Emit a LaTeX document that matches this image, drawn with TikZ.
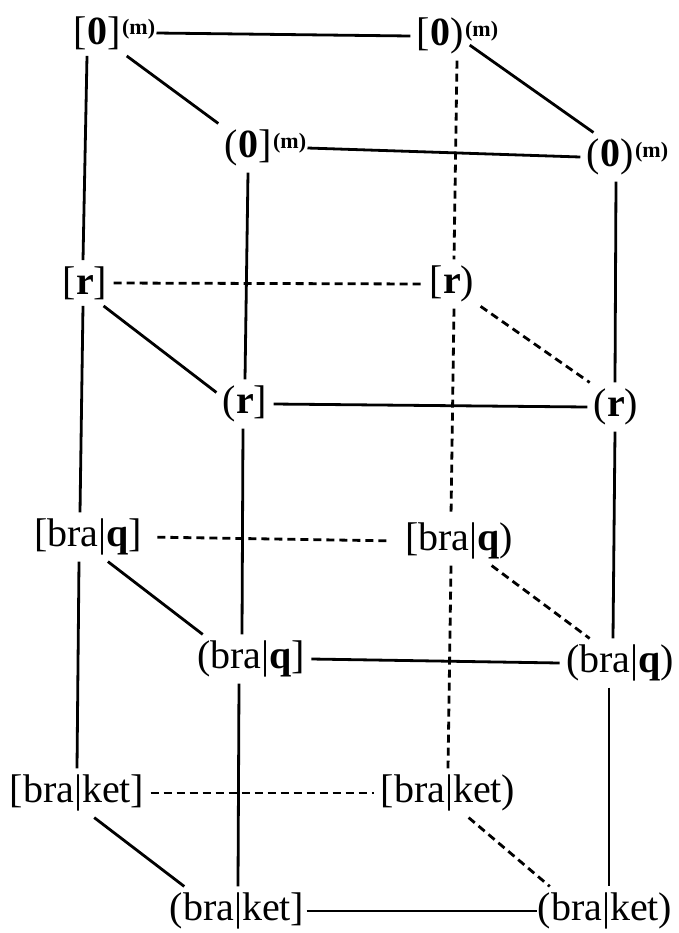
\documentclass[tikz,border=0pt]{standalone}
\usepackage{fontspec}
\setmainfont{Liberation Serif}
\tikzset{
  lbl/.style={font=\fontsize{20}{23}\selectfont, inner sep=3pt},
  supm/.style={font=\fontsize{11}{12}\selectfont\bfseries, inner sep=0.5pt, anchor=north west},
  link/.style={line width=1.4pt},
  hid/.style={line width=1.4pt, dash pattern=on 4pt off 2.5pt}
}
\begin{document}
\begin{tikzpicture}[x=0.5pt,y=-0.5pt]
\useasboundingbox (0,0) rectangle (679,933);
% zero level
\node[lbl] (bl0) at (97,33) {[\textbf{0}]};
\node[supm] (bl0m) at ([xshift=-3pt,yshift=-4pt]bl0.north east) {(m)};
\node[lbl] (br0) at (440,36) {[\textbf{0})};
\node[supm] (br0m) at ([xshift=-3pt,yshift=-4pt]br0.north east) {(m)};
\node[lbl] (fl0) at (248,148) {(\textbf{0}]};
\node[supm] (fl0m) at ([xshift=-3pt,yshift=-4pt]fl0.north east) {(m)};
\node[lbl] (fr0) at (610,157) {(\textbf{0})};
\node[supm] (fr0m) at ([xshift=-3pt,yshift=-4pt]fr0.north east) {(m)};
% r level
\node[lbl] (blr) at (85,283) {[\textbf{r}]};
\node[lbl] (brr) at (452,284) {[\textbf{r})};
\node[lbl] (flr) at (245,404) {(\textbf{r}]};
\node[lbl] (frr) at (616,407) {(\textbf{r})};
% bra|q level
\node[lbl] (blq) at (88,537) {[bra|\textbf{q}]};
\node[lbl] (brq) at (459,541) {[bra|\textbf{q})};
\node[lbl] (flq) at (251,659) {(bra|\textbf{q}]};
\node[lbl] (frq) at (620,663) {(bra|\textbf{q})};
% bra|ket level
\node[lbl] (blk) at (77,793) {[bra|ket]};
\node[lbl] (brk) at (448,793) {[bra|ket)};
\node[lbl] (flk) at (237,911) {(bra|ket]};
\node[lbl] (frk) at (605,911) {(bra|ket)};

% horizontal edges
\draw[link] (bl0m.east |- bl0) -- (br0.west);
\draw[link] (fl0m.east |- fl0) -- (fr0.west);
\draw[hid] (blr.east) -- (brr.west);
\draw[link] (flr.east) -- (frr.west);
\draw[hid, shorten <=4.5pt, shorten >=4.5pt] (blq.east) -- (brq.west);
\draw[link] (flq.east) -- (frq.west);
\draw[hid] (blk.east) -- (brk.west);
\draw[link, shorten <=-2pt, shorten >=-3pt] (flk.east) -- (frk.west);

% diagonal edges
\draw[link] (bl0.south east) -- (fl0.north west);
\draw[link] (br0.-17) -- (fr0.124);
\draw[link] (blr.-51) -- (flr.158);
\draw[hid] (brr.-38) -- (frr.137);
\draw[link] (blq.-51) -- (flq.153);
\draw[hid] (brq.-37) -- (frq.141);
\draw[link] (blk.-55) -- (flk.155);
\draw[hid] (brk.-50) -- (frk.156);

% vertical edges
\draw[link] ([xshift=-5pt]bl0.south) -- ([xshift=-1pt]blr.north);
\draw[link] ([xshift=-1pt]blr.south) -- ([xshift=-4pt]blq.north);
\draw[link] ([xshift=-4.5pt]blq.south) -- (blk.north);
\draw[link] (fl0.south) -- (flr.north);
\draw[link] ([xshift=-1pt]flr.south) -- ([xshift=-4.5pt]flq.north);
\draw[link] ([xshift=-6pt]flq.south) -- ([xshift=.5pt]flk.north);
\draw[hid] ([xshift=8.5pt]br0.south) -- ([xshift=1pt]brr.north);
\draw[hid] ([xshift=1pt]brr.south) -- ([xshift=-4pt]brq.north);
\draw[hid] ([xshift=-4pt]brq.south) -- (brk.north);
\draw[link] ([xshift=3pt]fr0.south) -- ([xshift=-.5pt]frr.north);
\draw[link] ([xshift=-.5pt]frr.south) -- ([xshift=-3.5pt]frq.north);
\draw[link] ([xshift=-5.5pt]frq.south) -- ([xshift=2pt]frk.north);
\end{tikzpicture}
\end{document}
